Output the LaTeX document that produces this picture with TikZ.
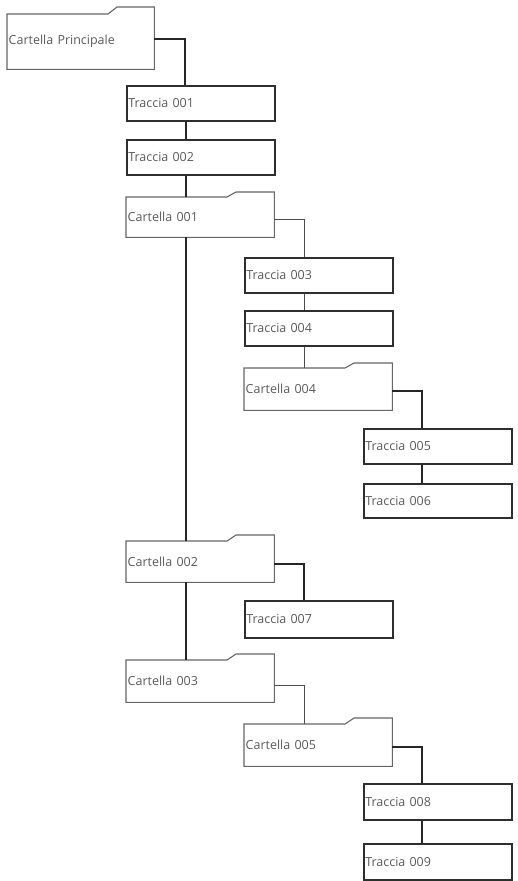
\documentclass[tikz,border=0pt]{standalone}
\usepackage{fontspec}
\setmainfont{Open Sans}
\definecolor{txtgray}{HTML}{5A5A5A}
\definecolor{trkline}{HTML}{2E2E2E}
\definecolor{fldline}{HTML}{666666}
\begin{document}
\begin{tikzpicture}[x=1pt,y=-1pt,
  base/.style={anchor=north west, inner xsep=1.5pt, inner ysep=0pt, align=left,
    text=txtgray, font=\fontsize{12.5}{14}\selectfont},
  trk/.style={base, draw=trkline, line width=1.6pt, text width=145pt, minimum height=35pt},
  fld/.style={base, text width=145pt, minimum height=41pt},
  fldline/.style={draw=fldline, line width=1.1pt, line join=miter},
  thickc/.style={draw=black!85, line width=1.6pt},
  thinc/.style={draw=black!70, line width=0.9pt}]
\useasboundingbox (0,0) rectangle (517,881);
\newcommand\mkfolder[2]{%
  \draw[fldline] (#1.south west) -- (#1.north west) -- ([xshift=101pt]#1.north west)
    -- ([xshift=110pt,yshift=#2]#1.north west) -- ([yshift=#2]#1.north east)
    -- (#1.south east) -- cycle;}
% nodes
\node[fld, minimum height=55pt, text width=144pt] (cp) at (7,14) {Cartella Principale};
\mkfolder{cp}{7pt}
\node[trk] (t1) at (126,85) {Traccia 001};
\node[trk] (t2) at (126,139) {Traccia 002};
\node[fld, minimum height=40pt] (c1) at (126,197) {Cartella 001};
\mkfolder{c1}{5pt}
\node[trk] (t3) at (244,257) {Traccia 003};
\node[trk] (t4) at (244,310) {Traccia 004};
\node[fld, minimum height=42pt] (c4) at (244,368) {Cartella 004};
\mkfolder{c4}{5pt}
\node[trk] (t5) at (363,428) {Traccia 005};
\node[trk, minimum height=34pt] (t6) at (363,483) {Traccia 006};
\node[fld] (c2) at (126,541) {Cartella 002};
\mkfolder{c2}{6pt}
\node[trk, minimum height=37pt] (t7) at (244,600) {Traccia 007};
\node[fld, minimum height=42pt] (c3) at (126,660) {Cartella 003};
\mkfolder{c3}{6pt}
\node[fld, minimum height=42pt] (c5) at (244,724) {Cartella 005};
\mkfolder{c5}{6pt}
\node[trk, minimum height=36pt] (t8) at (363,783) {Traccia 008};
\node[trk, minimum height=36pt] (t9) at (363,843) {Traccia 009};
% connectors
\draw[thickc] ([yshift=3pt]cp.east) -| ([xshift=59pt]t1.north west);
\draw[thickc] ([xshift=60pt]t1.south west) -- ([xshift=60pt]t2.north west);
\draw[thickc] ([xshift=60pt]t2.south west) -- ([xshift=60pt]c1.north west);
\draw[thickc] ([xshift=60pt]c1.south west) -- ([xshift=60pt]c2.north west);
\draw[thickc] ([xshift=60pt]c2.south west) -- ([xshift=60pt]c3.north west);
\draw[thinc] ([yshift=-2pt]c1.east) -| ([xshift=60pt]t3.north west);
\draw[thinc] ([xshift=60pt]t3.south west) -- ([xshift=60pt]t4.north west);
\draw[thinc] ([xshift=60pt]t4.south west) -- ([xshift=60pt]c4.north west);
\draw[thickc] ([yshift=-2pt]c4.east) -| ([xshift=59pt]t5.north west);
\draw[thickc] ([xshift=59pt]t5.south west) -- ([xshift=59pt]t6.north west);
\draw[thickc] ([yshift=-2pt]c2.east) -| ([xshift=60pt]t7.north west);
\draw[thinc] ([yshift=-4pt]c3.east) -| ([xshift=60pt]c5.north west);
\draw[thickc] ([yshift=-2pt]c5.east) -| ([xshift=59pt]t8.north west);
\draw[thickc] ([xshift=59pt]t8.south west) -- ([xshift=59pt]t9.north west);
\end{tikzpicture}
\end{document}
